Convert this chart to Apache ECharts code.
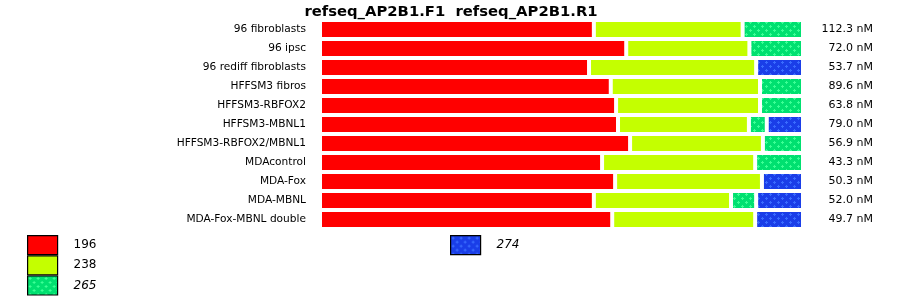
<!DOCTYPE html>
<html><head><meta charset="utf-8">
<script src="https://cdn.jsdelivr.net/npm/echarts@6/dist/echarts.min.js"></script>
<style>html,body{margin:0;padding:0;background:#fff}#c{width:900px;height:299px}</style>
</head><body><div id="c"></div>
<script>
const categories = ['96 fibroblasts','96 ipsc','96 rediff fibroblasts','HFFSM3 fibros','HFFSM3-RBFOX2','HFFSM3-MBNL1','HFFSM3-RBFOX2/MBNL1','MDAcontrol','MDA-Fox','MDA-MBNL','MDA-Fox-MBNL double'];
const concLabels = ['112.3 nM','72.0 nM','53.7 nM','89.6 nM','63.8 nM','79.0 nM','56.9 nM','43.3 nM','50.3 nM','52.0 nM','49.7 nM'];
const s196 = [56.7, 63.4, 55.7, 60.2, 61.3, 61.7, 64.2, 58.4, 61.1, 56.7, 60.5];
const s238 = [30.8, 25.5, 34.6, 30.9, 29.8, 27.1, 27.5, 31.7, 30.4, 28.4, 29.6];
const s265 = [12.5, 11.1, '-', 8.9, 8.9, 3.7, 8.3, 9.9, '-', 5.2, '-'];
const s274 = ['-', '-', 9.7, '-', '-', 7.5, '-', '-', 8.5, 9.7, 9.9];
const seriesNames = ['196','238','265','274'];
const titleText = 'refseq_AP2B1.F1  refseq_AP2B1.R1';

function pattern(base, dot){
  const c = document.createElement('canvas');
  c.width = 8; c.height = 8;
  const g = c.getContext('2d');
  g.fillStyle = base; g.fillRect(0,0,8,8);
  g.fillStyle = dot;
  const plus = (x,y)=>{ g.fillRect(x-1,y,3,1); g.fillRect(x,y-1,1,3); };
  plus(2,2); plus(6,6);
  return {image:c, repeat:'repeat'};
}
const FONT = 'DejaVu Sans';
const colors = ['#ff0000', '#c4ff00', pattern('#00e070','#3cff96'), pattern('#1a3ee8','#3a6cff')];
const dataArr = [s196, s238, s265, s274];

const chart = echarts.init(document.getElementById('c'), null, {renderer:'canvas'});
const legendFmt = n => (n==='265'||n==='274') ? '{i|'+n+'}' : '{n|'+n+'}';
const legendText = {color:'#000', fontFamily:FONT, fontSize:12, padding:[0,0,0,11],
  rich:{i:{fontStyle:'italic', fontFamily:FONT, fontSize:12, color:'#000'}, n:{fontFamily:FONT, fontSize:12, color:'#000'}}};
chart.setOption({
  animation:false,
  backgroundColor:'#fff',
  title:{text:titleText, left:446, textAlign:'center', top:0,
    textStyle:{fontFamily:FONT, fontWeight:'bold', fontSize:14.8, color:'#000'}},
  legend:[
    {data:['196','238','265'], orient:'vertical', left:27, top:235, height:64, padding:0,
     itemWidth:30, itemHeight:19, itemGap:0,
     icon:'rect', formatter:legendFmt, textStyle:legendText, selectedMode:false,
     itemStyle:{borderColor:'#000', borderWidth:1.2}},
    {data:['274'], orient:'vertical', left:450, top:235, padding:0, itemWidth:30, itemHeight:19, itemGap:0,
     icon:'rect', formatter:legendFmt, textStyle:legendText, selectedMode:false,
     itemStyle:{borderColor:'#000', borderWidth:1.2}}
  ],
  grid:{left:320, right:97, top:20, height:209, containLabel:false},
  xAxis:{type:'value', min:0, max:100, show:false},
  yAxis:[
    {type:'category', data:categories, inverse:true, position:'left',
     axisLine:{show:false}, axisTick:{show:false}, splitLine:{show:false},
     axisLabel:{margin:14, fontFamily:FONT, fontSize:10.6, color:'#000'}},
    {type:'category', data:concLabels, inverse:true, position:'right',
     axisLine:{show:false}, axisTick:{show:false}, splitLine:{show:false},
     axisLabel:{margin:70, align:'right', fontFamily:FONT, fontSize:11, color:'#000'}}
  ],
  series: seriesNames.map((n,i)=>({
    name:n, type:'bar', stack:'all', data:dataArr[i], barWidth:19,
    itemStyle:{color:colors[i], borderColor:'#fff', borderWidth:2},
    emphasis:{disabled:true}
  }))
});
</script>
</body></html>
